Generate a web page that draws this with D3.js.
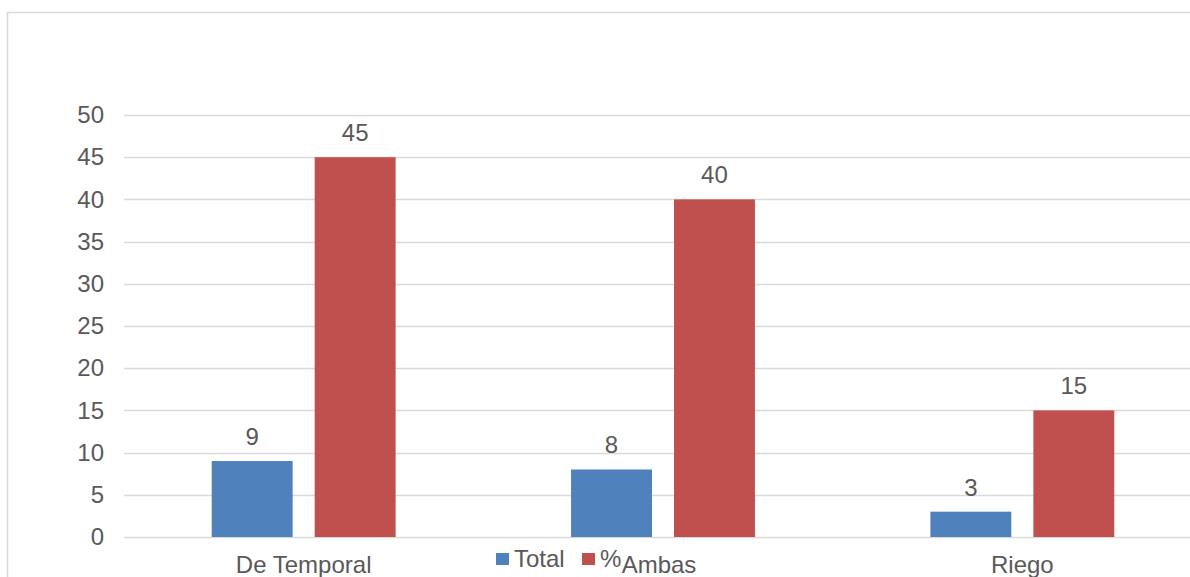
<!DOCTYPE html>
<html>
<head>
<meta charset="utf-8">
<script src="https://cdn.jsdelivr.net/npm/d3@7"></script>
<style>
  body { margin: 0; background: #fff; overflow: hidden; }
  text { font-family: "Liberation Sans", Arial, sans-serif; fill: #595959; }
</style>
</head>
<body>
<div id="chart"></div>
<script>
// data
var categories = ["De Temporal", "Ambas", "Riego"];
var seriesNames = ["Total", "%"];
var totalValues = [9, 8, 3];
var pctValues = [45, 40, 15];
var yTicks = [0, 5, 10, 15, 20, 25, 30, 35, 40, 45, 50];
var colors = ["#4f81bd", "#c0504d"];

var svgWidth = 1190;
var svgHeight = 577;

var margin = { top: 115, left: 124 };
var width = 1078;   // plot runs past the right edge of the window
var height = 422;

var svg = d3.select("#chart")
  .append("svg")
  .attr("width", svgWidth)
  .attr("height", svgHeight);

// outer chart frame (cut off at right and bottom)
svg.append("rect")
  .attr("x", 7.5)
  .attr("y", 12.5)
  .attr("width", 1200)
  .attr("height", 600)
  .attr("fill", "none")
  .attr("stroke", "#d9d9d9")
  .attr("stroke-width", 1.5);

var chartGroup = svg.append("g")
  .attr("transform", `translate(${margin.left}, ${margin.top})`);

var yScale = d3.scaleLinear().domain([0, 50]).range([height, 0]);
var x0 = d3.scaleBand().domain(categories).range([0, width]).paddingInner(0).paddingOuter(0);
var x1 = d3.scaleBand().domain(seriesNames).range([0, x0.bandwidth()]).paddingInner(0.214).paddingOuter(0.852);

// gridlines
chartGroup.selectAll(".grid")
  .data(yTicks)
  .enter()
  .append("line")
  .attr("x1", 0)
  .attr("x2", width)
  .attr("y1", d => Math.round(yScale(d)) + 0.5)
  .attr("y2", d => Math.round(yScale(d)) + 0.5)
  .attr("stroke", "#d9d9d9")
  .attr("stroke-width", 1.5);

// y axis labels
var leftAxis = d3.axisLeft(yScale).tickValues(yTicks).tickSize(0).tickPadding(20);
chartGroup.append("g")
  .call(leftAxis)
  .call(g => g.select(".domain").remove())
  .selectAll("text")
  .attr("font-family", "Liberation Sans, Arial, sans-serif")
  .attr("font-size", "24px")
  .attr("fill", "#595959");

// bars
var rows = categories.map((c, i) => ({ cat: c, vals: [totalValues[i], pctValues[i]] }));

var groups = chartGroup.selectAll(".cat")
  .data(rows)
  .enter()
  .append("g")
  .attr("transform", d => `translate(${x0(d.cat)}, 0)`);

groups.selectAll("rect")
  .data(d => d.vals.map((v, j) => ({ s: seriesNames[j], v: v, j: j })))
  .enter()
  .append("rect")
  .attr("x", d => x1(d.s))
  .attr("y", d => yScale(d.v))
  .attr("width", x1.bandwidth())
  .attr("height", d => height - yScale(d.v))
  .attr("fill", d => colors[d.j]);

groups.selectAll(".lbl")
  .data(d => d.vals.map((v, j) => ({ s: seriesNames[j], v: v })))
  .enter()
  .append("text")
  .attr("x", d => x1(d.s) + x1.bandwidth() / 2)
  .attr("y", d => yScale(d.v) - 16)
  .attr("text-anchor", "middle")
  .attr("font-size", "24px")
  .text(d => d.v);

// category labels
chartGroup.selectAll(".xlab")
  .data(categories)
  .enter()
  .append("text")
  .attr("x", d => x0(d) + x0.bandwidth() / 2 - (d === "Ambas" ? 4 : 0))
  .attr("y", height + 36)
  .attr("text-anchor", "middle")
  .attr("font-size", "24px")
  .text(d => d);

// legend (overlaps the middle category label, as in the original)
var legend = svg.append("g").attr("transform", "translate(496, 553)");
var legendX = [0, 86];
seriesNames.forEach(function(name, i) {
  legend.append("rect")
    .attr("x", legendX[i])
    .attr("y", 0)
    .attr("width", 13)
    .attr("height", 12)
    .attr("fill", colors[i]);
  legend.append("text")
    .attr("x", legendX[i] + 18)
    .attr("y", 14)
    .attr("font-size", "24px")
    .text(name);
});
</script>
</body>
</html>
